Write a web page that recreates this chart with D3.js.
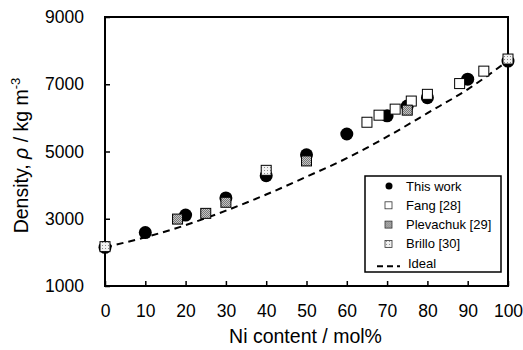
<!DOCTYPE html>
<html>
<head>
<meta charset="utf-8">
<script src="https://cdn.jsdelivr.net/npm/d3@7"></script>
<style>
  html, body { margin: 0; padding: 0; background: #fff; overflow: hidden; }
  svg { display: block; }
  text { font-family: Arial, "Liberation Sans", sans-serif; fill: #000; }
  .tick text { font-size: 17.5px; }
  .axis-label { font-size: 19.5px; }
  .legend text { font-size: 13px; }
</style>
</head>
<body>
<svg width="523" height="350"></svg>
<script>
// data
const thisWork = [[0,2150],[10,2590],[20,3110],[30,3620],[40,4280],[50,4900],[60,5520],[70,6060],[75,6350],[80,6600],[90,7150],[100,7690]];
const fang = [[65,5870],[68,6080],[72,6260],[76,6500],[80,6700],[88,7020],[94,7390]];
const plevachuk = [[18,2990],[25,3160],[30,3490],[50,4720],[75,6230]];
const brillo = [[0,2170],[40,4440],[100,7750]];
const ideal = [[0,2150],[10,2450],[20,2810],[30,3240],[40,3720],[50,4250],[60,4800],[70,5440],[80,6140],[90,6850],[100,7700]];
const xTicks = d3.range(0, 101, 10);
const yTicks = [1000, 3000, 5000, 7000, 9000];

const svg = d3.select('svg');
const margin = { left: 105, right: 15, top: 17, bottom: 64 };
const innerWidth = 523 - margin.left - margin.right;
const innerHeight = 350 - margin.top - margin.bottom;

const defs = svg.append('defs');
const p1 = defs.append('pattern').attr('id', 'plev').attr('width', 2).attr('height', 2).attr('patternUnits', 'userSpaceOnUse');
p1.append('rect').attr('width', 2).attr('height', 2).attr('fill', '#c4c4c4');
p1.append('rect').attr('width', 1).attr('height', 1).attr('fill', '#777');
p1.append('rect').attr('x', 1).attr('y', 1).attr('width', 1).attr('height', 1).attr('fill', '#777');
const p2 = defs.append('pattern').attr('id', 'brillo').attr('width', 3).attr('height', 3).attr('patternUnits', 'userSpaceOnUse');
p2.append('rect').attr('width', 3).attr('height', 3).attr('fill', '#f2f2f2');
p2.append('rect').attr('width', 1).attr('height', 1).attr('fill', '#8a8a8a');

const g = svg.append('g').attr('transform', `translate(${margin.left},${margin.top})`);

const xScale = d3.scaleLinear().domain([0, 100]).range([0, innerWidth]);
const yScale = d3.scaleLinear().domain([1000, 9000]).range([innerHeight, 0]);

const xAxis = d3.axisBottom(xScale).tickValues(xTicks).tickSize(-5).tickPadding(19).tickFormat(d3.format('d'));
const yAxis = d3.axisLeft(yScale).tickValues(yTicks).tickSize(-5).tickPadding(21).tickFormat(d3.format('d'));

g.append('g').attr('transform', `translate(0,${innerHeight})`).call(xAxis)
  .call(a => a.select('.domain').remove())
  .call(a => a.selectAll('.tick line').attr('stroke-width', 1.5));
g.append('g').call(yAxis)
  .call(a => a.select('.domain').remove())
  .call(a => a.selectAll('.tick line').attr('stroke-width', 1.5));

g.append('rect')
  .attr('width', innerWidth).attr('height', innerHeight)
  .attr('fill', 'none').attr('stroke', '#000').attr('stroke-width', 2);

// ideal line
const line = d3.line().x(d => xScale(d[0])).y(d => yScale(d[1])).curve(d3.curveMonotoneX);
g.append('path').attr('d', line(ideal))
  .attr('fill', 'none').attr('stroke', '#000').attr('stroke-width', 2)
  .attr('stroke-dasharray', '7,5');

const sq = 10;
function squares(data, fill) {
  g.append('g').selectAll('rect').data(data).join('rect')
    .attr('x', d => xScale(d[0]) - sq / 2).attr('y', d => yScale(d[1]) - sq / 2)
    .attr('width', sq).attr('height', sq)
    .attr('fill', fill).attr('stroke', '#000').attr('stroke-width', 1);
}

g.append('g').selectAll('circle').data(thisWork).join('circle')
  .attr('cx', d => xScale(d[0])).attr('cy', d => yScale(d[1])).attr('r', 6.5)
  .attr('fill', '#000');
squares(fang, '#fff');
squares(plevachuk, 'url(#plev)');
squares(brillo, 'url(#brillo)');

// legend
const lg = svg.append('g').attr('class', 'legend').attr('transform', 'translate(365,176)');
lg.append('rect').attr('width', 136).attr('height', 96)
  .attr('fill', '#fff').attr('stroke', '#000').attr('stroke-width', 1.5);
const items = [
  { label: 'This work', kind: 'circle' },
  { label: 'Fang [28]', fill: '#fff' },
  { label: 'Plevachuk [29]', fill: 'url(#plev)' },
  { label: 'Brillo [30]', fill: 'url(#brillo)' },
  { label: 'Ideal', kind: 'line' }
];
items.forEach((it, i) => {
  const y = 10 + i * 19.3;
  const row = lg.append('g').attr('transform', `translate(0,${y})`);
  if (it.kind === 'circle') {
    row.append('circle').attr('cx', 24).attr('cy', 0).attr('r', 3.5).attr('fill', '#000');
  } else if (it.kind === 'line') {
    row.append('line').attr('x1', 12).attr('x2', 35).attr('y1', 3).attr('y2', 3)
      .attr('stroke', '#000').attr('stroke-width', 2).attr('stroke-dasharray', '6,4');
  } else {
    row.append('rect').attr('x', 20).attr('y', -3.5).attr('width', 7).attr('height', 7)
      .attr('fill', it.fill).attr('stroke', '#333').attr('stroke-width', 0.8);
  }
  row.append('text').attr('x', it.kind === 'line' ? 43 : 41).attr('y', 0).attr('dy', '0.35em').text(it.label);
});

// axis titles
svg.append('text').attr('class', 'axis-label')
  .attr('x', margin.left + innerWidth / 2 - 1).attr('y', 343)
  .attr('text-anchor', 'middle').text('Ni content / mol%');

const yt = svg.append('text').attr('class', 'axis-label')
  .attr('transform', `translate(28,${margin.top + innerHeight / 2 + 4}) rotate(-90)`)
  .attr('text-anchor', 'middle');
yt.append('tspan').text('Density, ');
yt.append('tspan').attr('font-style', 'italic').text('ρ');
yt.append('tspan').text(' / kg m');
yt.append('tspan').attr('font-size', '13px').attr('dy', '-8').text('-3');
</script>
</body>
</html>
